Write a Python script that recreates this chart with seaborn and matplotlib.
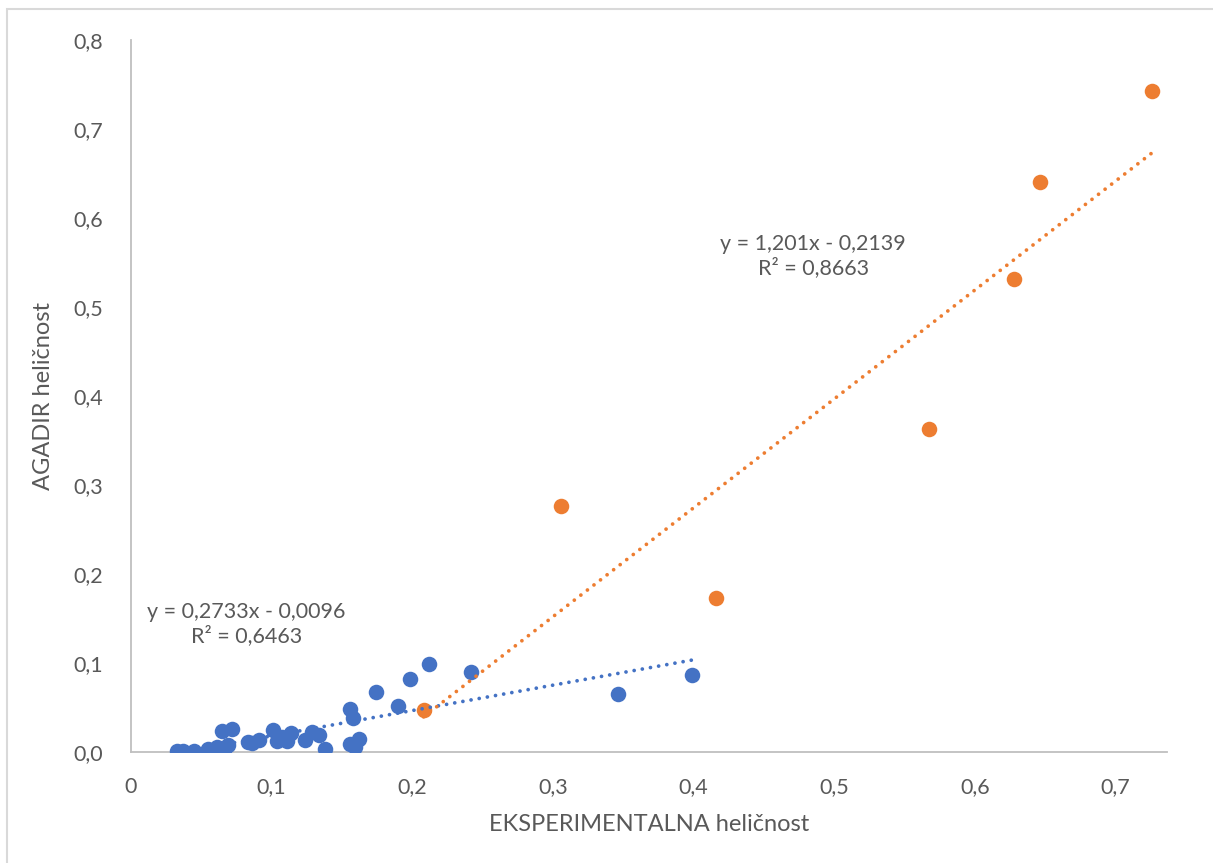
import matplotlib as mpl
mpl.use("Agg")
import matplotlib.pyplot as plt
from matplotlib.patches import Rectangle
import seaborn as sns
import numpy as np
import pandas as pd

# blue series
exp_blue = [0.033, 0.037, 0.045, 0.055, 0.056, 0.061, 0.065, 0.066, 0.069, 0.072,
            0.083, 0.086, 0.091, 0.101, 0.104, 0.107, 0.111, 0.114, 0.124, 0.129,
            0.134, 0.138, 0.156, 0.158, 0.156, 0.159, 0.162, 0.174, 0.190, 0.198,
            0.212, 0.242, 0.346, 0.399]
aga_blue = [0.001, 0.001, 0.001, 0.003, 0.001, 0.006, 0.024, 0.002, 0.008, 0.026,
            0.011, 0.010, 0.013, 0.025, 0.012, 0.017, 0.012, 0.021, 0.013, 0.022,
            0.019, 0.003, 0.048, 0.038, 0.009, 0.006, 0.015, 0.067, 0.052, 0.082,
            0.099, 0.090, 0.065, 0.087]

# orange series
exp_orange = [0.208, 0.306, 0.416, 0.567, 0.628, 0.646, 0.726]
aga_orange = [0.047, 0.276, 0.173, 0.363, 0.532, 0.640, 0.743]

eq_blue = "y = 0,2733x - 0,0096\nR² = 0,6463"
eq_orange = "y = 1,201x - 0,2139\nR² = 0,8663"

BLUE = "#4472C4"
ORANGE = "#ED7D31"
TXT = "#595959"

sns.set_style("white")
plt.rcParams['font.family'] = ['Lato', 'DejaVu Sans']

df_b = pd.DataFrame({'x': exp_blue, 'y': aga_blue})
df_o = pd.DataFrame({'x': exp_orange, 'y': aga_orange})

fig = plt.figure(figsize=(12.13, 8.63), dpi=100)
ax = fig.add_axes([131/1213, 111/863, 1036/1213, 712/863])

line_style = dict(ls=(0, (0.01, 2.2)), dash_capstyle='round', lw=2.7, zorder=4)
for d, c in [(df_b, BLUE), (df_o, ORANGE)]:
    sns.regplot(data=d, x='x', y='y', ax=ax, ci=None, truncate=True,
                scatter_kws=dict(s=125, color=c, alpha=1, linewidths=0, zorder=3),
                line_kws=dict(color=c, **line_style))

ax.set_xlim(0, 0.7365)
ax.set_ylim(0, 0.8)
ax.set_xticks(np.arange(0, 0.71, 0.1))
ax.set_xticklabels(['0', '0,1', '0,2', '0,3', '0,4', '0,5', '0,6', '0,7'])
ax.set_yticks(np.arange(0, 0.81, 0.1))
ax.set_yticklabels([f"{v:.1f}".replace('.', ',') for v in np.arange(0, 0.81, 0.1)])
ax.tick_params(length=0, labelsize=15.5, labelcolor=TXT)
ax.tick_params(axis='x', pad=18)
ax.tick_params(axis='y', pad=20)

for s in ['top', 'right']:
    ax.spines[s].set_visible(False)
for s in ['left', 'bottom']:
    ax.spines[s].set_color('#BFBFBF')
    ax.spines[s].set_linewidth(1.3)

ax.set_xlabel("EKSPERIMENTALNA heličnost", fontsize=17, color=TXT, labelpad=12)
ax.set_ylabel("AGADIR heličnost", fontsize=17, color=TXT, labelpad=14)

ax.text(0.485, 0.557, eq_orange, fontsize=15.5, color=TXT, ha='center', va='center',
        linespacing=1.2)
ax.text(0.082, 0.144, eq_blue, fontsize=15.5, color=TXT, ha='center', va='center',
        linespacing=1.2)

fig.patches.append(Rectangle((7/1213, -0.01), 1.1, (863-9)/863 + 0.01,
                             transform=fig.transFigure, fill=False,
                             edgecolor='#D9D9D9', lw=1.5))

fig.savefig("out.png", dpi=100)
